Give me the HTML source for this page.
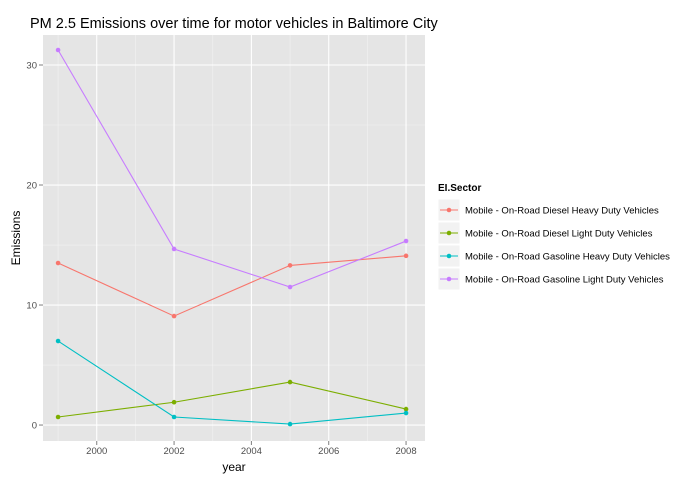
<!DOCTYPE html>
<html><head><meta charset="utf-8"><style>
body{margin:0;background:#fff;font-family:"Liberation Sans",sans-serif}
</style></head><body>
<svg id="chart" width="700" height="480" xmlns="http://www.w3.org/2000/svg" font-family="Liberation Sans, sans-serif">
<rect width="700" height="480" fill="#fff"/>
<text x="30" y="28" font-size="14.5" fill="#000">PM 2.5 Emissions over time for motor vehicles in Baltimore City</text>
<rect x="43" y="35" width="382" height="406" fill="#E5E5E5"/>
<g id="grid"></g>
<g id="series"></g>
<g id="axes"></g>
<text x="234" y="471" font-size="12" text-anchor="middle">year</text>
<text transform="translate(20,238) rotate(-90)" font-size="12" text-anchor="middle">Emissions</text>
<g id="legend">
<text x="438" y="191" font-size="10" font-weight="bold">EI.Sector</text>
</g>
</svg>
<script>
const years=[1999,2002,2005,2008];
const seriesNames=["Mobile - On-Road Diesel Heavy Duty Vehicles","Mobile - On-Road Diesel Light Duty Vehicles","Mobile - On-Road Gasoline Heavy Duty Vehicles","Mobile - On-Road Gasoline Light Duty Vehicles"];
const dieselHeavy=[13.5,9.08,13.3,14.1];
const dieselLight=[0.67,1.9,3.58,1.33];
const gasolineHeavy=[7.0,0.67,0.08,1.0];
const gasolineLight=[31.25,14.67,11.5,15.33];
const xTicks=[2000,2002,2004,2006,2008];
const yTicks=[0,10,20,30];
const colors=["#F8766D","#7CAE00","#00BFC4","#C77CFF"];
const allSeries=[dieselHeavy,dieselLight,gasolineHeavy,gasolineLight];
const NS="http://www.w3.org/2000/svg";
const L=43,R=425,T=35,B=441,x0=1998.61,x1=2008.49,y0=-1.33,y1=32.5;
const sx=v=>L+(v-x0)/(x1-x0)*(R-L);
const sy=v=>B-(v-y0)/(y1-y0)*(B-T);
function mk(tag,attrs,parent){const e=document.createElementNS(NS,tag);for(const k in attrs)e.setAttribute(k,attrs[k]);parent.appendChild(e);return e;}
const grid=document.getElementById('grid'),ser=document.getElementById('series'),axes=document.getElementById('axes'),leg=document.getElementById('legend');
for(let i=0;i<yTicks.length-1;i++){const v=(yTicks[i]+yTicks[i+1])/2;const l=mk('line',{x1:L,x2:R,y1:sy(v),y2:sy(v),stroke:'#F2F2F2','stroke-width':0.6},grid);}
for(let i=0;i<xTicks.length;i++){const v=xTicks[i]-1;const l=mk('line',{y1:T,y2:B,x1:sx(v),x2:sx(v),stroke:'#F2F2F2','stroke-width':0.6},grid);}
yTicks.forEach(v=>{const l=mk('line',{x1:L,x2:R,y1:sy(v),y2:sy(v),stroke:'#fff','stroke-width':1.1},grid);
const t=mk('text',{x:L-6,y:sy(v)+3.5,'font-size':9.5,'text-anchor':'end',fill:'#4d4d4d'},axes);t.textContent=v;
mk('line',{x1:L-4,x2:L,y1:sy(v),y2:sy(v),stroke:'#7f7f7f'},axes);});
xTicks.forEach(v=>{const l=mk('line',{y1:T,y2:B,x1:sx(v),x2:sx(v),stroke:'#fff','stroke-width':1.1},grid);
const t=mk('text',{x:sx(v),y:B+13,'font-size':9.5,'text-anchor':'middle',fill:'#4d4d4d'},axes);t.textContent=v;
mk('line',{y1:B,y2:B+4,x1:sx(v),x2:sx(v),stroke:'#7f7f7f'},axes);});
allSeries.forEach((s,i)=>{const p=mk('polyline',{points:s.map((v,j)=>sx(years[j])+','+sy(v)).join(' '),fill:'none',stroke:colors[i],'stroke-width':1.1},ser);

s.forEach((v,j)=>{const c=mk('circle',{cx:sx(years[j]),cy:sy(v),r:2.3,fill:colors[i]},ser);});
const y=210+i*23;
const k=mk('rect',{x:438,y:y-11,width:22,height:22,fill:'#F2F2F2',stroke:'#fff'},leg);
mk('line',{x1:440,x2:458,y1:y,y2:y,stroke:colors[i],'stroke-width':1.1},leg);
mk('circle',{cx:449,cy:y,r:2.3,fill:colors[i]},leg);
const t=mk('text',{x:465,y:y+3.5,'font-size':9.5,fill:'#000'},leg);t.textContent=seriesNames[i];});
</script>
</body></html>
